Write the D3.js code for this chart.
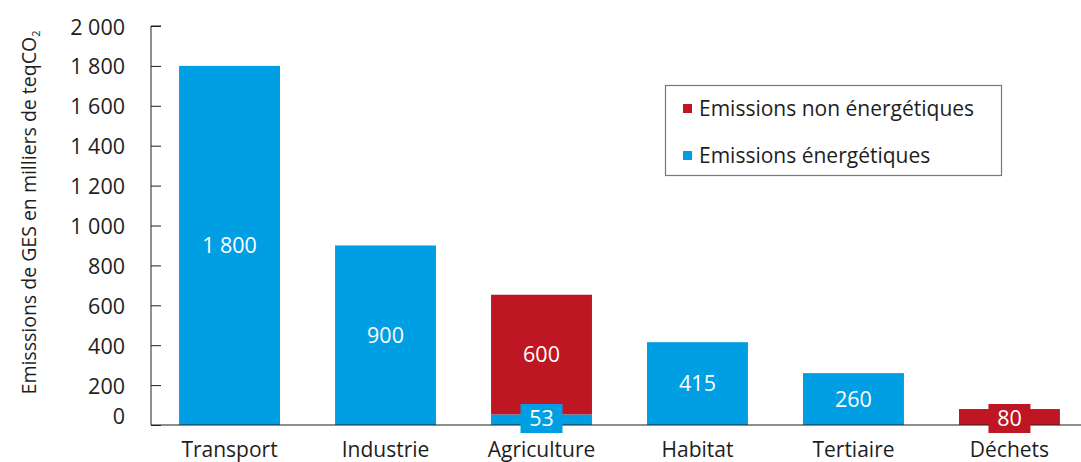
<!DOCTYPE html>
<html>
<head>
<meta charset="utf-8">
<script src="https://cdn.jsdelivr.net/npm/d3@7"></script>
<style>
  html, body { margin: 0; padding: 0; background: #fff; }
  svg text { font-family: "Open Sans", "Noto Sans", sans-serif; }
</style>
</head>
<body>
<svg id="chart" width="1081" height="462"></svg>
<script>
// Greenhouse gas emissions by sector (thousands of tCO2e)
const categories = ["Transport", "Industrie", "Agriculture", "Habitat", "Tertiaire", "Déchets"];
const energetiques = [1800, 900, 53, 415, 260, 0];
const nonEnergetiques = [0, 0, 600, 0, 0, 80];
const yTicks = [0, 200, 400, 600, 800, 1000, 1200, 1400, 1600, 1800, 2000];
const seriesNames = ["Emissions non énergétiques", "Emissions énergétiques"];

const BLUE = "#009fe3";
const RED = "#be1622";
const INK = "#1e1e1e";

const svg = d3.select("#chart");
const x0 = 151, baseY = 425;

const x = d3.scaleBand()
  .domain(categories)
  .range([x0, 1088])
  .paddingInner(0.353)
  .paddingOuter(0.18);

const y = d3.scaleLinear().domain([0, 2000]).range([baseY, 26]);

const fmt = v => d3.format(",")(v).replace(/,/g, " ");

// Y axis: line with inward ticks
const yAxis = d3.axisRight(y).tickValues(yTicks).tickSize(10).tickFormat("");
const gy = svg.append("g").attr("transform", `translate(${x0},0)`).call(yAxis);
gy.select(".domain").attr("stroke", INK).attr("d", `M10,26H0V${baseY}`);
gy.selectAll(".tick line").attr("stroke", INK);

// Y tick labels
svg.append("g").selectAll("text").data(yTicks).join("text")
  .attr("x", 125)
  .attr("y", d => d === 0 ? y(d) - 9 : y(d) + 1)
  .attr("dy", "0.35em")
  .attr("text-anchor", "end")
  .attr("font-size", 21.5)
  .attr("fill", INK)
  .text(d => fmt(d));

// Y axis title
const title = svg.append("text")
  .attr("transform", `translate(36,${(baseY + 10) / 2 - 5}) rotate(-90)`)
  .attr("text-anchor", "middle")
  .attr("font-size", 19.5)
  .attr("fill", INK);
title.append("tspan").text("Emisssions de GES en milliers de teqCO");
title.append("tspan").attr("font-size", 11).attr("dy", 4).text("2");

// Stacked bars
const rows = categories.map((c, i) => ({ c, e: energetiques[i], n: nonEnergetiques[i] }));
const bars = svg.append("g");
bars.selectAll("rect.e").data(rows.filter(d => d.e > 0)).join("rect")
  .attr("x", d => x(d.c)).attr("width", x.bandwidth())
  .attr("y", d => y(d.e)).attr("height", d => baseY - y(d.e))
  .attr("fill", BLUE);
bars.selectAll("rect.n").data(rows.filter(d => d.n > 0)).join("rect")
  .attr("x", d => x(d.c)).attr("width", x.bandwidth())
  .attr("y", d => y(d.e + d.n)).attr("height", d => y(d.e) - y(d.e + d.n))
  .attr("fill", RED);

// X axis baseline
svg.append("line").attr("x1", x0).attr("x2", 1081).attr("y1", baseY).attr("y2", baseY)
  .attr("stroke", INK).attr("stroke-width", 1.2);

// Category labels
svg.append("g").selectAll("text").data(categories).join("text")
  .attr("x", d => x(d) + x.bandwidth() / 2)
  .attr("y", 450)
  .attr("dy", "0.35em")
  .attr("text-anchor", "middle")
  .attr("font-size", 21)
  .attr("fill", INK)
  .text(d => d);

// Value labels: large segments labelled inside, small ones in a tab on the baseline
const labels = [];
rows.forEach(d => {
  if (d.e > 0) labels.push({ c: d.c, v: d.e, lo: 0, hi: d.e, color: BLUE });
  if (d.n > 0) labels.push({ c: d.c, v: d.n, lo: d.e, hi: d.e + d.n, color: RED });
});
const lg = svg.append("g");
labels.forEach(l => {
  const cx = x(l.c) + x.bandwidth() / 2;
  if (l.v >= 150) {
    lg.append("text").attr("x", cx).attr("y", (y(l.lo) + y(l.hi)) / 2)
      .attr("dy", "0.35em").attr("text-anchor", "middle")
      .attr("font-size", 21.5).attr("fill", "#fff").text(fmt(l.v));
  } else {
    const cy = 418;
    lg.append("rect").attr("x", cx - 21).attr("y", cy - 14).attr("width", 42).attr("height", 29)
      .attr("fill", l.color);
    lg.append("text").attr("x", cx).attr("y", cy)
      .attr("dy", "0.35em").attr("text-anchor", "middle")
      .attr("font-size", 21.5).attr("fill", "#fff").text(fmt(l.v));
  }
});

// Legend
const legend = svg.append("g");
legend.append("rect").attr("x", 665.5).attr("y", 85.5).attr("width", 336).attr("height", 90)
  .attr("fill", "#fff").attr("stroke", "#777").attr("stroke-width", 1.2);
const legColors = [RED, BLUE];
seriesNames.forEach((s, i) => {
  const ly = 109 + i * 47;
  legend.append("rect").attr("x", 683).attr("y", ly - 5).attr("width", 9).attr("height", 9)
    .attr("fill", legColors[i]);
  legend.append("text").attr("x", 699).attr("y", ly).attr("dy", "0.35em")
    .attr("font-size", 21).attr("fill", INK).text(s);
});
</script>
</body>
</html>
